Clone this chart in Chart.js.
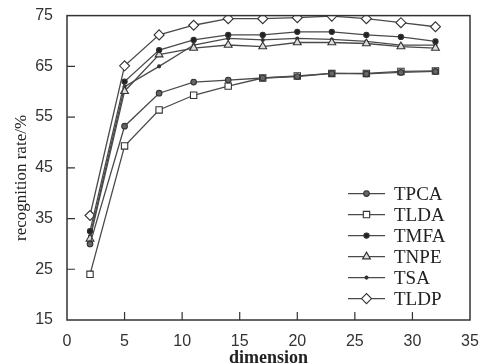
<!DOCTYPE html>
<html lang="en">
<head>
    <meta charset="UTF-8">
    <title>Recognition rate vs dimension</title>
    <script src="https://cdn.jsdelivr.net/npm/chart.js"></script>
    <style>
        html, body { margin: 0; padding: 0; background: #fff; }
        #wrap { width: 490px; height: 364px; }
    </style>
</head>
<body>
    <div id="wrap"><canvas id="rateChart" width="490" height="364"></canvas></div>
    <script>
        // values
        const dims = [2, 5, 8, 11, 14, 17, 20, 23, 26, 29, 32];
        const tpca = [30, 53.2, 59.7, 61.9, 62.3, 62.7, 63.0, 63.6, 63.5, 63.8, 64.0];
        const tlda = [24, 49.3, 56.4, 59.3, 61.1, 62.7, 63.1, 63.6, 63.6, 64.0, 64.1];
        const tmfa = [32.5, 62, 68.2, 70.2, 71.2, 71.2, 71.8, 71.8, 71.2, 70.8, 69.9];
        const tnpe = [31, 60.1, 67.3, 68.6, 69.2, 68.9, 69.7, 69.7, 69.5, 68.9, 68.6];
        const tsa = [31.5, 61, 65, 69.2, 70.5, 70.2, 70.5, 70.3, 69.9, 69.2, 69.2];
        const tldp = [35.6, 65.1, 71.2, 73.1, 74.4, 74.4, 74.6, 74.9, 74.4, 73.6, 72.8];
        const seriesNames = ['TPCA', 'TLDA', 'TMFA', 'TNPE', 'TSA', 'TLDP'];
        const xTicks = [0, 5, 10, 15, 20, 25, 30, 35];
        const yTicks = [15, 25, 35, 45, 55, 65, 75];

        const lineColor = '#4a4a4a';
        const sans = "'Liberation Sans', Arial, sans-serif";
        const serif = "'Liberation Serif', 'Times New Roman', serif";

        function pts(vals) {
            return vals.map((v, i) => ({ x: dims[i], y: v }));
        }

        const markers = [
            { pointStyle: 'circle', pointRadius: 2.8, pointBackgroundColor: '#666' },
            { pointStyle: 'rect', pointRadius: 4.5, pointBackgroundColor: '#fff' },
            { pointStyle: 'circle', pointRadius: 2.6, pointBackgroundColor: '#222' },
            { pointStyle: 'triangle', pointRadius: 4.5, pointBackgroundColor: '#ddd' },
            { pointStyle: 'circle', pointRadius: 1.5, pointBackgroundColor: '#333' },
            { pointStyle: 'rectRot', pointRadius: 5, pointBackgroundColor: '#fff' }
        ];

        const datasets = [tpca, tlda, tmfa, tnpe, tsa, tldp].map((vals, i) => Object.assign({
            label: seriesNames[i],
            data: pts(vals),
            borderColor: lineColor,
            borderWidth: 1.3,
            pointBorderColor: '#333',
            pointBorderWidth: 1.1,
            fill: false,
            tension: 0
        }, markers[i]));

        // frame, inner ticks, y title and the legend box
        const paperPlugin = {
            id: 'paper',
            afterDraw(chart) {
                const ctx = chart.ctx;
                const a = chart.chartArea;
                const xs = chart.scales.x, ys = chart.scales.y;
                ctx.save();
                ctx.strokeStyle = '#333';
                ctx.lineWidth = 1.5;
                ctx.strokeRect(a.left, a.top, a.right - a.left, a.bottom - a.top);
                ctx.lineWidth = 1.2;
                ctx.beginPath();
                xTicks.slice(1, -1).forEach(t => {
                    const px = xs.getPixelForValue(t);
                    ctx.moveTo(px, a.bottom);
                    ctx.lineTo(px, a.bottom - 8);
                });
                yTicks.slice(1, -1).forEach(t => {
                    const py = ys.getPixelForValue(t);
                    ctx.moveTo(a.left, py);
                    ctx.lineTo(a.left + 8, py);
                });
                ctx.stroke();

                // y axis title, sits a bit below the middle like the scan
                ctx.save();
                ctx.translate(22, ys.getPixelForValue(43));
                ctx.rotate(-Math.PI / 2);
                ctx.font = '17px ' + serif;
                ctx.fillStyle = '#222';
                ctx.textAlign = 'center';
                ctx.textBaseline = 'middle';
                ctx.fillText('recognition rate/%', 0, 0);
                ctx.restore();

                // legend
                const lx = a.right - 122, ly = a.top + 178, step = 21;
                ctx.font = '19px ' + serif;
                ctx.textBaseline = 'middle';
                ctx.textAlign = 'left';
                chart.data.datasets.forEach((ds, i) => {
                    const y = ly + i * step;
                    ctx.strokeStyle = lineColor;
                    ctx.lineWidth = 1.3;
                    ctx.beginPath();
                    ctx.moveTo(lx, y);
                    ctx.lineTo(lx + 37, y);
                    ctx.stroke();
                    ctx.fillStyle = ds.pointBackgroundColor;
                    ctx.strokeStyle = ds.pointBorderColor;
                    ctx.lineWidth = ds.pointBorderWidth;
                    Chart.helpers.drawPoint(ctx, {
                        pointStyle: ds.pointStyle,
                        radius: ds.pointRadius,
                        borderWidth: ds.pointBorderWidth,
                        rotation: 0
                    }, lx + 18.5, y);
                    ctx.fillStyle = '#222';
                    ctx.fillText(ds.label, lx + 46, y + 1);
                });
                ctx.restore();
            }
        };

        new Chart(document.getElementById('rateChart'), {
            type: 'line',
            data: { datasets: datasets },
            options: {
                responsive: false,
                animation: false,
                layout: { padding: { top: 12, right: 20, left: 0, bottom: 0 } },
                plugins: {
                    legend: { display: false },
                    tooltip: { enabled: false }
                },
                scales: {
                    x: {
                        type: 'linear',
                        min: 0,
                        max: 35,
                        afterFit(scale) { scale.height = 44; },
                        afterBuildTicks(scale) { scale.ticks = xTicks.map(v => ({ value: v })); },
                        grid: { display: false },
                        border: { display: false },
                        ticks: { color: '#333', padding: 4, font: { family: sans, size: 16 } },
                        title: {
                            display: true,
                            text: 'dimension',
                            color: '#222',
                            padding: 0,
                            font: { family: serif, size: 18, weight: 'bold', lineHeight: 0.6 }
                        }
                    },
                    y: {
                        min: 15,
                        max: 75,
                        afterFit(scale) { scale.width = 67; },
                        afterBuildTicks(scale) { scale.ticks = yTicks.map(v => ({ value: v })); },
                        grid: { display: false },
                        border: { display: false },
                        ticks: { color: '#333', padding: 6, font: { family: sans, size: 16 } }
                    }
                }
            },
            plugins: [paperPlugin]
        });
    </script>
</body>
</html>
